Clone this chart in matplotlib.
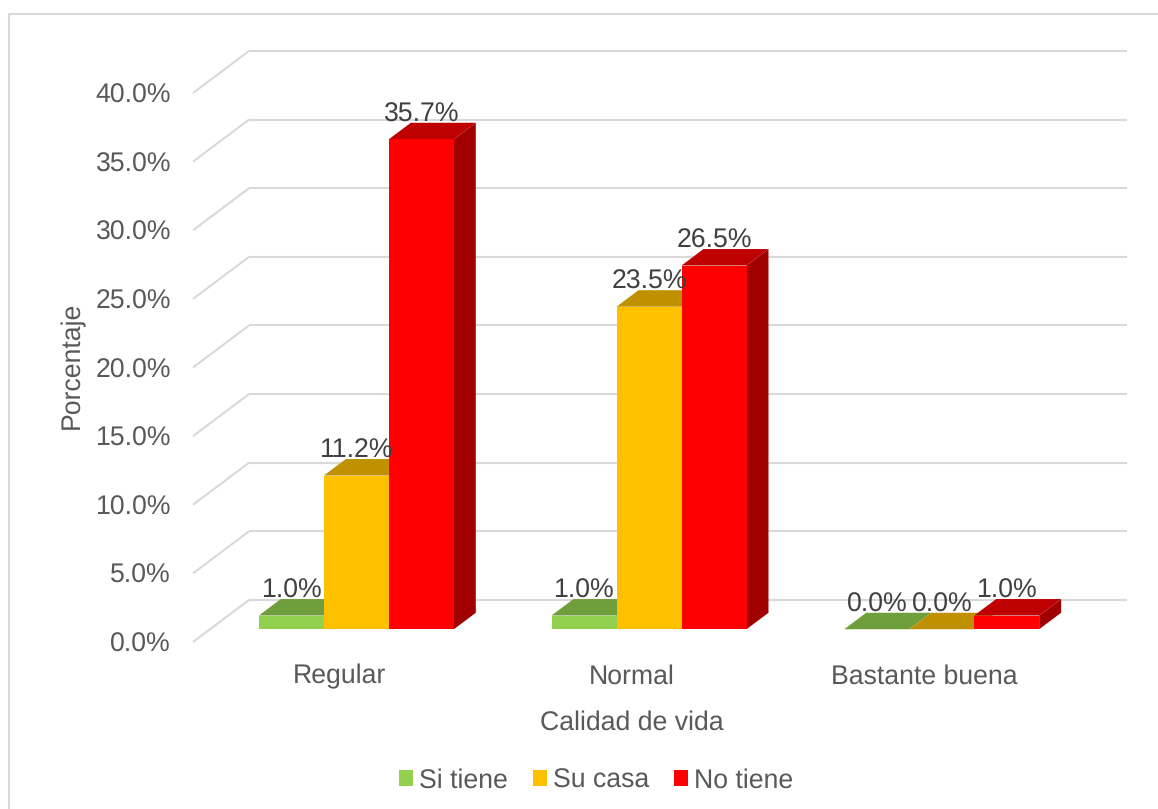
# Calidad de vida - 3D look column chart drawn on a normal 2D axes
import matplotlib
matplotlib.use('Agg')
import matplotlib.pyplot as plt
from matplotlib.patches import Patch, Rectangle

plt.rcParams['font.family'] = ['Liberation Sans', 'DejaVu Sans']
plt.rcParams['text.hinting'] = 'none'
plt.rcParams['lines.solid_capstyle'] = 'butt'

categories = ['Regular', 'Normal', 'Bastante buena']
series_names = ['Si tiene', 'Su casa', 'No tiene']
si_tiene = [1.0, 1.0, 0.0]
su_casa = [11.2, 23.5, 0.0]
no_tiene = [35.7, 26.5, 1.0]
y_ticks = [0, 5, 10, 15, 20, 25, 30, 35, 40]

W, H = 1158, 809
front_col = ['#92d050', '#ffc000', '#ff0000']
top_col = ['#6f9e3c', '#bf9000', '#bf0000']
side_col = ['#5c8432', '#a07900', '#a00000']
grid_col = '#d9d9d9'
text_col = '#595959'
label_col = '#404040'
FS = 19.2

# plot area in pixels (front plane of the chart box)
left, right, top, bottom = 193, 1071, 93, 642
cat_w = (right - left) / 3
px_per_pct = (bottom - top) / 40

fig = plt.figure(figsize=(W / 100, H / 100), dpi=100)
fig.add_artist(Rectangle((8.7 / W, -0.01), 1.1, 1 - 13.7 / H + 0.01, transform=fig.transFigure,
                         fill=False, ec=grid_col, lw=1.5))
ax = fig.add_axes([left / W, 1 - bottom / H, (right - left) / W, (bottom - top) / H])
ax.set_xlim(0, 3)
ax.set_ylim(0, 40)
ax.patch.set_visible(False)
for s in ax.spines.values():
    s.set_visible(False)

# depth of the box and of the bars, in data units
box_dx = 56 / cat_w
box_dy = 42 / px_per_pct
d_front, d_back = 0.304, 0.696
bar_w = 65 / cat_w

#Back wall grid and left side diagonals
for v in y_ticks:
    ax.plot([0, box_dx], [v, v + box_dy], color=grid_col, lw=1.5, clip_on=False, zorder=1)
    ax.plot([box_dx, 3 + box_dx], [v + box_dy, v + box_dy], color=grid_col, lw=1.5, clip_on=False, zorder=1)

#Bars, left to right so the next one hides the previous side
all_vals = [si_tiene, su_casa, no_tiene]
z = 2
for c in range(len(categories)):
    for i, vals in enumerate(all_vals):
        v = vals[c]
        x0 = c + 0.5 + (i - 1.5) * bar_w + d_front * box_dx
        x1 = x0 + bar_w
        ddx = (d_back - d_front) * box_dx
        ddy = (d_back - d_front) * box_dy
        y0 = d_front * box_dy
        ax.fill([x1, x1 + ddx, x1 + ddx, x1], [y0, y0 + ddy, y0 + ddy + v, y0 + v],
                color=side_col[i], lw=0, clip_on=False, zorder=z)
        ax.fill([x0, x1, x1 + ddx, x0 + ddx], [y0 + v, y0 + v, y0 + v + ddy, y0 + v + ddy],
                color=top_col[i], lw=0, clip_on=False, zorder=z)
        ax.fill([x0, x1, x1, x0], [y0, y0, y0 + v, y0 + v],
                color=front_col[i], lw=0, clip_on=False, zorder=z)
        z += 1

#Data labels on top of everything
for c in range(len(categories)):
    for i, vals in enumerate(all_vals):
        v = vals[c]
        xc = c + 0.5 + (i - 1) * bar_w + d_front * box_dx
        ax.annotate('%.1f%%' % v, (xc, v + d_front * box_dy), xytext=(0.4, 24.5 * 0.72),
                    textcoords='offset points', ha='center', va='center',
                    fontsize=FS, color=label_col, annotation_clip=False, zorder=50)

ax.set_yticks(y_ticks)
ax.set_yticklabels(['%.1f%%' % v for v in y_ticks])
ax.set_xticks([0.5, 1.5, 2.5])
ax.set_xticklabels(categories)
ax.tick_params(axis='y', length=0, pad=15.8, labelsize=FS, labelcolor=text_col)
ax.tick_params(axis='x', length=0, pad=16, labelsize=FS, labelcolor=text_col)

fig.text(632 / W, 1 - 722.5 / H, 'Calidad de vida', ha='center', va='center', fontsize=FS, color=text_col)
fig.text(72 / W, 1 - 365 / H, 'Porcentaje', ha='center', va='center', rotation=90, fontsize=FS, color=text_col)

handles = [Patch(color=front_col[i], lw=0, label=series_names[i]) for i in range(3)]
fig.legend(handles=handles, loc='center', bbox_to_anchor=(596 / W, 1 - 780.5 / H), ncol=3, frameon=False,
           fontsize=FS, labelcolor=text_col, handlelength=0.53, handleheight=0.53,
           handletextpad=0.22, columnspacing=0.95, borderpad=0, borderaxespad=0)

fig.savefig('out.png', dpi=100)
